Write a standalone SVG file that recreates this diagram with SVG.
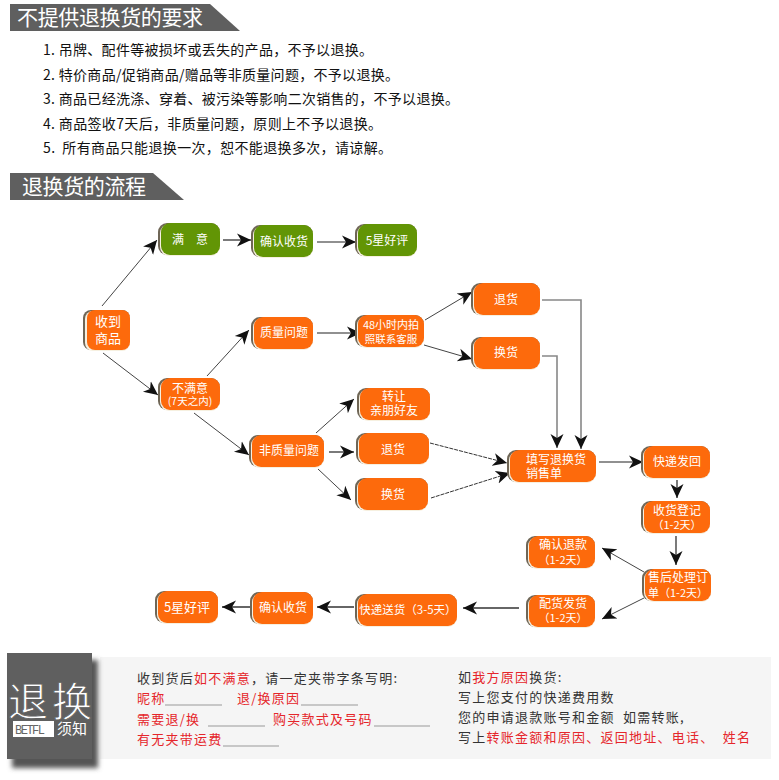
<svg xmlns="http://www.w3.org/2000/svg" width="779" height="780" viewBox="0 0 779 780">
<style>
text{font-family:"Noto Sans CJK SC","Noto Sans",sans-serif}
.s{fill:#6f6656}.e{fill:#f6f0e0}.o{fill:#fd6a0c}.g{fill:#629505}
.t{fill:#fff;font-size:12px;text-anchor:middle}
.tl{fill:#fff;font-size:12px}
.h{fill:#fff;font-size:21px}
.l{fill:#111;font-size:14px}
.b{fill:#333;font-size:13px;letter-spacing:1.25px}
.r{fill:#e5262b}
.u{stroke:#999;stroke-width:1;fill:none}
.a{stroke:#444;stroke-width:1;fill:none;marker-end:url(#ah)}
.d{stroke:#333;stroke-width:1;stroke-dasharray:4 1;fill:none;marker-end:url(#ah)}
.m{stroke:#222;stroke-width:1.2;fill:none;marker-end:url(#ah)}
.p{stroke:#888;stroke-width:1.6;fill:none;marker-end:url(#ah)}
.k{stroke:#666;stroke-width:2;fill:none;marker-end:url(#ah)}
</style>
<defs>
<marker id="ah" markerUnits="userSpaceOnUse" markerWidth="17" markerHeight="16" refX="14" refY="8" orient="auto"><path d="M0,1.5 L14,8 L0,14.5 L4,8 Z" fill="#111"/></marker>
<filter id="bl" x="-20%" y="-20%" width="140%" height="140%"><feGaussianBlur stdDeviation="2.5"/></filter>
</defs>
<rect width="779" height="780" fill="#fff"/>
<g id="head1"><path d="M10,4H210L240,31H10Z" fill="#5f5f5f"/><text class="h" x="17" y="25" textLength="186">不提供退换货的要求</text></g>
<g id="rules">
<text class="l" x="43" y="55" textLength="330">1. 吊牌、配件等被损坏或丢失的产品，不予以退换。</text>
<text class="l" x="43" y="80" textLength="356">2. 特价商品/促销商品/赠品等非质量问题，不予以退换。</text>
<text class="l" x="43" y="104" textLength="416">3. 商品已经洗涤、穿着、被污染等影响二次销售的，不予以退换。</text>
<text class="l" x="43" y="129" textLength="339">4. 商品签收7天后，非质量问题，原则上不予以退换。</text>
<text class="l" x="43" y="153" textLength="349" xml:space="preserve">5.  所有商品只能退换一次，恕不能退换多次，请谅解。</text>
</g>
<g id="head2"><path d="M10,173H153L184,200H10Z" fill="#5f5f5f"/><text class="h" x="22" y="194" textLength="124">退换货的流程</text></g>
<g id="connectors">
<path class="a" d="M102,306L157,240"/>
<path class="a" d="M103,353L158,395"/>
<path class="m" d="M223,240H251"/>
<path class="m" d="M317,242H356"/>
<path class="a" d="M207,376L249,330"/>
<path class="m" d="M317,333H361"/>
<path class="a" d="M425,320L472,292"/>
<path class="a" d="M424,345L472,359"/>
<path class="a" d="M194,413L249,455"/>
<path class="a" d="M316,433L354,399"/>
<path class="m" d="M329,452H354"/>
<path class="a" d="M318,469L351,500"/>
<path class="d" d="M430,443L507,463"/>
<path class="d" d="M431,498L510,473"/>
<path class="p" d="M542,300H581V449"/>
<path class="p" d="M542,356H557V448"/>
<path class="m" d="M599,462H643"/>
<path class="m" d="M677,480V498"/>
<path class="m" d="M676,536V565"/>
<path class="a" d="M644,572L602,548"/>
<path class="a" d="M644,598L602,619"/>
<path class="k" d="M519,608H463"/>
<path class="k" d="M354,607H317"/>
<path class="k" d="M252,607H222"/>
</g>
<g id="n-shouhuo"><rect class="s" x="83" y="310" width="47" height="40" rx="8"/><rect class="e" x="85" y="311" width="45" height="40" rx="8"/><rect class="o" x="87" y="310" width="43" height="40" rx="8"/><text class="t" x="108" y="326" style="font-size:13px">收到</text><text class="t" x="108" y="343" style="font-size:13px">商品</text></g>
<g id="n-manyi"><rect class="s" x="158" y="223" width="62" height="32" rx="9"/><rect class="e" x="160" y="224" width="60" height="32" rx="9"/><rect class="g" x="161" y="223" width="59" height="32" rx="9"/><text class="t" x="190" y="244" xml:space="preserve">满　意</text></g>
<g id="n-queren1"><rect class="s" x="251" y="225" width="62" height="32" rx="9"/><rect class="e" x="253" y="226" width="60" height="32" rx="9"/><rect class="g" x="254" y="225" width="59" height="32" rx="9"/><text class="t" x="284" y="246">确认收货</text></g>
<g id="n-hao1"><rect class="s" x="355" y="224" width="62" height="32" rx="9"/><rect class="e" x="357" y="225" width="60" height="32" rx="9"/><rect class="g" x="358" y="224" width="59" height="32" rx="9"/><text class="t" x="387" y="245">5星好评</text></g>
<g id="n-zhiliang"><rect class="s" x="251" y="317" width="62" height="32" rx="9"/><rect class="e" x="253" y="318" width="60" height="32" rx="9"/><rect class="o" x="254" y="317" width="59" height="32" rx="9"/><text class="t" x="284" y="337">质量问题</text></g>
<g id="n-48"><rect class="s" x="355" y="315" width="69" height="32" rx="9"/><rect class="e" x="357" y="316" width="67" height="32" rx="9"/><rect class="o" x="358" y="315" width="66" height="32" rx="9"/><text class="t" x="391" y="329" style="font-size:11px">48小时内拍</text><text class="t" x="391" y="343" style="font-size:10.5px">照联系客服</text></g>
<g id="n-bumanyi"><rect class="s" x="158" y="378" width="62" height="32" rx="9"/><rect class="e" x="160" y="379" width="60" height="32" rx="9"/><rect class="o" x="161" y="378" width="59" height="32" rx="9"/><text class="t" x="190" y="393">不满意</text><text class="t" x="190" y="405" style="font-size:10.5px">(7天之内)</text></g>
<g id="n-zhuanrang"><rect class="s" x="357" y="388" width="73" height="32" rx="9"/><rect class="e" x="359" y="389" width="71" height="32" rx="9"/><rect class="o" x="360" y="388" width="70" height="32" rx="9"/><text class="t" x="394" y="401">转让</text><text class="t" x="394" y="415">亲朋好友</text></g>
<g id="n-feizhi"><rect class="s" x="249" y="435" width="75" height="32" rx="9"/><rect class="e" x="251" y="436" width="73" height="32" rx="9"/><rect class="o" x="252" y="435" width="72" height="32" rx="9"/><text class="t" x="289" y="455">非质量问题</text></g>
<g id="n-tui1"><rect class="s" x="356" y="433" width="73" height="31" rx="9"/><rect class="e" x="358" y="434" width="71" height="31" rx="9"/><rect class="o" x="359" y="433" width="70" height="31" rx="9"/><text class="t" x="393" y="454">退货</text></g>
<g id="n-huan1"><rect class="s" x="355" y="478" width="73" height="32" rx="9"/><rect class="e" x="357" y="479" width="71" height="32" rx="9"/><rect class="o" x="358" y="478" width="70" height="32" rx="9"/><text class="t" x="393" y="499">换货</text></g>
<g id="n-tui2"><rect class="s" x="471" y="283" width="69" height="32" rx="9"/><rect class="e" x="473" y="284" width="67" height="32" rx="9"/><rect class="o" x="474" y="283" width="66" height="32" rx="9"/><text class="t" x="506" y="304">退货</text></g>
<g id="n-huan2"><rect class="s" x="471" y="337" width="69" height="32" rx="9"/><rect class="e" x="473" y="338" width="67" height="32" rx="9"/><rect class="o" x="474" y="337" width="66" height="32" rx="9"/><text class="t" x="506" y="357">换货</text></g>
<g id="n-tianxie"><rect class="s" x="507" y="450" width="89" height="32" rx="9"/><rect class="e" x="509" y="451" width="87" height="32" rx="9"/><rect class="o" x="510" y="450" width="86" height="32" rx="9"/><text class="tl" x="526" y="464">填写退换货</text><text class="tl" x="526" y="478">销售单</text></g>
<g id="n-kuaidi"><rect class="s" x="641" y="446" width="69" height="32" rx="9"/><rect class="e" x="643" y="447" width="67" height="32" rx="9"/><rect class="o" x="644" y="446" width="66" height="32" rx="9"/><text class="t" x="677" y="466">快递发回</text></g>
<g id="n-dengji"><rect class="s" x="641" y="501" width="69" height="32" rx="9"/><rect class="e" x="643" y="502" width="67" height="32" rx="9"/><rect class="o" x="644" y="501" width="66" height="32" rx="9"/><text class="t" x="677" y="515">收货登记</text><text class="t" x="677" y="529" style="font-size:11px">（1-2天）</text></g>
<g id="n-tuikuan"><rect class="s" x="526" y="536" width="69" height="32" rx="9"/><rect class="e" x="528" y="537" width="67" height="32" rx="9"/><rect class="o" x="529" y="536" width="66" height="32" rx="9"/><text class="t" x="563" y="549">确认退款</text><text class="t" x="563" y="564" style="font-size:11px">（1-2天）</text></g>
<g id="n-shouhou"><rect class="s" x="642" y="569" width="69" height="32" rx="9"/><rect class="e" x="644" y="570" width="67" height="32" rx="9"/><rect class="o" x="645" y="569" width="66" height="32" rx="9"/><text class="tl" x="648" y="582">售后处理订</text><text class="tl" x="648" y="597" style="font-size:11px">单（1-2天）</text></g>
<g id="n-peihuo"><rect class="s" x="526" y="595" width="69" height="32" rx="9"/><rect class="e" x="528" y="596" width="67" height="32" rx="9"/><rect class="o" x="529" y="595" width="66" height="32" rx="9"/><text class="t" x="563" y="608">配货发货</text><text class="t" x="563" y="622" style="font-size:11px">（1-2天）</text></g>
<g id="n-songhuo"><rect class="s" x="355" y="594" width="102" height="32" rx="9"/><rect class="e" x="357" y="595" width="100" height="32" rx="9"/><rect class="o" x="358" y="594" width="99" height="32" rx="9"/><text class="t" x="408" y="614" style="font-size:11.5px">快递送货（3-5天）</text></g>
<g id="n-queren2"><rect class="s" x="250" y="592" width="63" height="32" rx="9"/><rect class="e" x="252" y="593" width="61" height="32" rx="9"/><rect class="o" x="253" y="592" width="60" height="32" rx="9"/><text class="t" x="283" y="612">确认收货</text></g>
<g id="n-hao2"><rect class="s" x="155" y="591" width="63" height="32" rx="9"/><rect class="e" x="157" y="592" width="61" height="32" rx="9"/><rect class="o" x="158" y="591" width="60" height="32" rx="9"/><text class="t" x="187" y="612" style="font-size:13px">5星好评</text></g>
<g id="notice">
<rect x="100" y="657" width="671" height="102" fill="#f5f5f5"/>
<rect x="12" y="660" width="86" height="108" fill="#555" filter="url(#bl)"/>
<rect x="7" y="653" width="85" height="106" fill="#5f5f5f"/>
<text x="8" y="716" fill="#fff" stroke="#5f5f5f" stroke-width="0.9" font-size="40" textLength="84">退换</text>
<rect x="13" y="721" width="41" height="16" fill="#fff"/>
<text x="15" y="734" fill="#666" font-size="12" style="font-family:'Liberation Mono',monospace" textLength="30">BETFL</text>
<text x="57" y="734" fill="#fff" font-size="15">须知</text>
<text class="b" x="137" y="683">收到货后<tspan class="r">如不满意</tspan>，请一定夹带字条写明:</text>
<text class="b r" x="137" y="703">昵称</text><path class="u" d="M165,705H222M301,705H358"/><text class="b r" x="237" y="703">退/换原因</text>
<text class="b r" x="137" y="724">需要退/换</text><path class="u" d="M208,726H265M374,726H430"/><text class="b r" x="273" y="724">购买款式及号码</text>
<text class="b r" x="137" y="744">有无夹带运费</text><path class="u" d="M223,746H279"/>
<text class="b" x="458" y="682">如<tspan class="r">我方原因</tspan>换货:</text>
<text class="b" x="458" y="702">写上您支付的快递费用数</text>
<text class="b" x="458" y="722" xml:space="preserve">您的申请退款账号和金额  如需转账,</text>
<text class="b" x="458" y="742" xml:space="preserve">写上<tspan class="r">转账金额和原因、返回地址、电话、  姓名</tspan></text>
</g>
</svg>
